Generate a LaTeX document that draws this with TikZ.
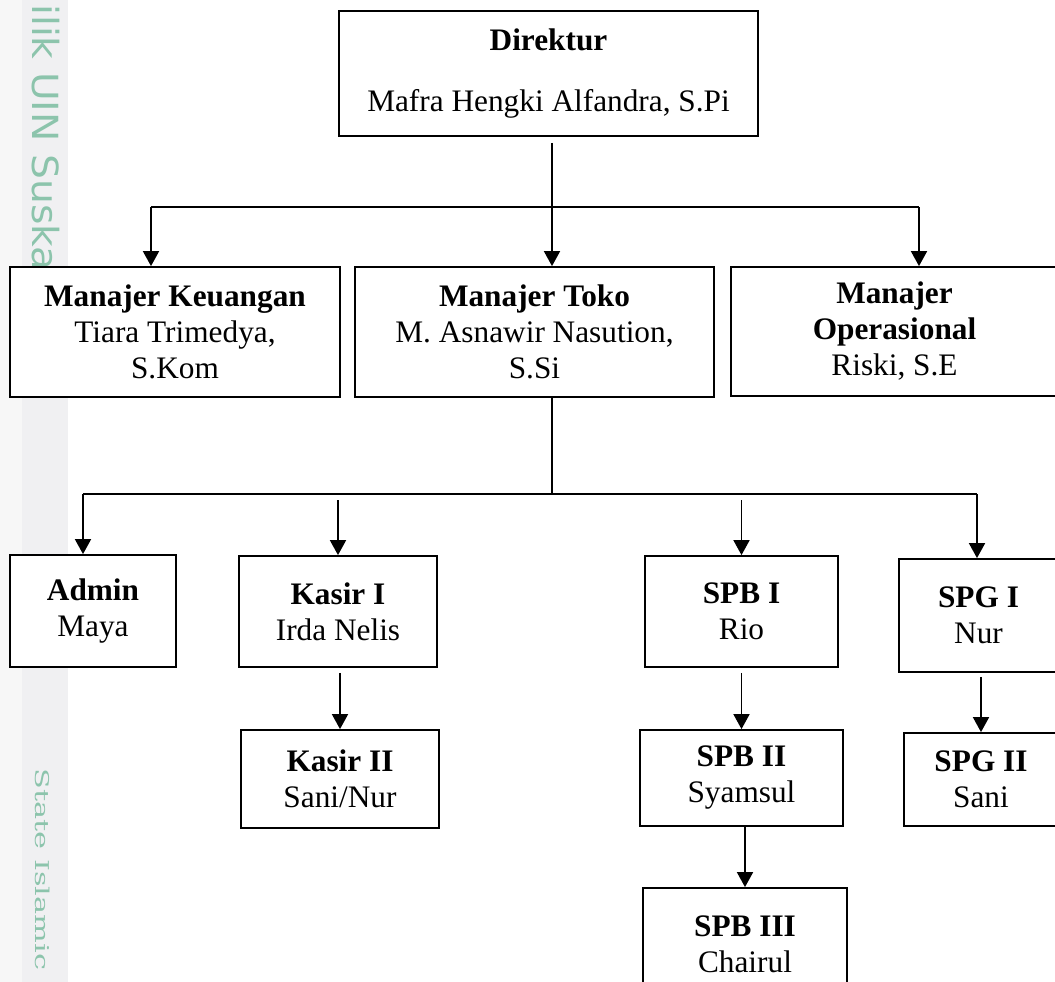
\documentclass[tikz,border=0pt]{standalone}
\usepackage{fontspec}
\setmainfont{Liberation Serif}
\newfontfamily\wmsans{DejaVu Sans}
\newfontfamily\wmserif{DejaVu Serif}
\usetikzlibrary{arrows.meta}
\definecolor{wmgreen}{RGB}{140,196,172}
\definecolor{wmlight}{RGB}{247,247,247}
\definecolor{wmband}{RGB}{240,240,242}
\tikzset{
  box/.style={draw=black, line width=1.8pt, fill=white, align=center, inner sep=0pt,
    font=\fontsize{31.3}{36}\selectfont},
  link/.style={draw=black, line width=1.8pt},
  arr/.style={link, -{Triangle[width=16pt,length=15pt]}},
  wm/.style={text=wmgreen, inner sep=0pt, rotate=-90, anchor=west}
}
\begin{document}
\begin{tikzpicture}[x=1pt,y=-1pt]
\useasboundingbox (0,0) rectangle (1055,982);
\clip (0,0) rectangle (1055,982);
\fill[white] (0,0) rectangle (1055,982);
% watermark strip
\fill[wmlight] (0,0) rectangle (22,982);
\fill[wmband] (22,0) rectangle (68,982);
\node[wm] (wm1) at (46,4) {\scalebox{1.09}[1]{\wmsans\fontsize{36}{36}\selectfont ilik UIN Suska}};
\node[wm] (wm2) at (43,768) {\scalebox{1.6}[1]{\wmserif\fontsize{19}{19}\selectfont State Islamic}};

% boxes
\node[box, minimum width=419pt, minimum height=125pt] (dir) at (548.5,73.5)
  {\textbf{Direktur}\\[25pt]Mafra Hengki Alfandra, S.Pi};
\node[box, minimum width=330pt, minimum height=130pt] (mk) at (175,332)
  {\textbf{Manajer Keuangan}\\Tiara Trimedya,\\S.Kom};
\node[box, minimum width=359pt, minimum height=130pt] (mt) at (534.5,332)
  {\textbf{Manajer Toko}\\M. Asnawir Nasution,\\S.Si};
\node[box, minimum width=327pt, minimum height=129pt] (mo) at (894.5,331.5)
  {\textbf{Manajer}\\\textbf{Operasional}\\Riski, S.E};
\node[box, minimum width=166pt, minimum height=112pt] (admin) at (93,611)
  {\textbf{Admin}\\Maya};
\node[box, minimum width=198pt, minimum height=111pt] (k1) at (338,611.5)
  {\textbf{Kasir I}\\Irda Nelis};
\node[box, minimum width=198pt, minimum height=98pt] (k2) at (340,779)
  {\textbf{Kasir II}\\Sani/Nur};
\node[box, minimum width=193pt, minimum height=111pt] (spb1) at (741.5,611.5)
  {\textbf{SPB I}\\Rio};
\node[box, minimum width=203pt, minimum height=96pt] (spb2) at (741.5,778)
  {\textbf{SPB II}\\Syamsul};
\node[box, minimum width=204pt, minimum height=112pt] (spb3) at (745,944)
  {\textbf{SPB III}\\Chairul};
\node[box, minimum width=159pt, minimum height=113pt] (spg1) at (978.5,615.5)
  {\textbf{SPG I}\\Nur};
\node[box, minimum width=154pt, minimum height=93pt] (spg2) at (981,779.5)
  {\textbf{SPG II}\\Sani};

% level 1 connectors
\coordinate (j1) at (552,207);
\coordinate (b1L) at (151,207);
\coordinate (b1R) at (919,207);
\draw[arr, shorten <=6pt] (dir.south -| j1) -- (j1 |- mt.north);
\draw[link] (b1L) -- (b1R);
\draw[arr] (b1L) -- (b1L |- mk.north);
\draw[arr] (b1R) -- (b1R |- mo.north);

% level 2 connectors
\coordinate (j2) at (552,494);
\coordinate (b2L) at (83,494);
\coordinate (b2R) at (977,494);
\draw[link] (mt.south -| j2) -- (j2);
\draw[link] (b2L) -- (b2R);
\draw[arr] (b2L) -- (b2L |- admin.north);
\draw[arr, shorten <=6pt] (k1.north |- b2L) -- (k1.north);
\draw[arr, shorten <=6pt] (spb1.north |- b2L) -- (spb1.north);
\draw[arr] (b2R) -- (b2R |- spg1.north);

% lower chains
\draw[arr, shorten <=5pt] (k1.south -| k2.north) -- (k2.north);
\draw[arr, shorten <=5pt] (spb1.south) -- (spb2.north);
\draw[arr] (spb2.south -| spb3.north) -- (spb3.north);
\draw[arr, shorten <=4pt] (spg1.south -| spg2.north) -- (spg2.north);
\end{tikzpicture}
\end{document}
